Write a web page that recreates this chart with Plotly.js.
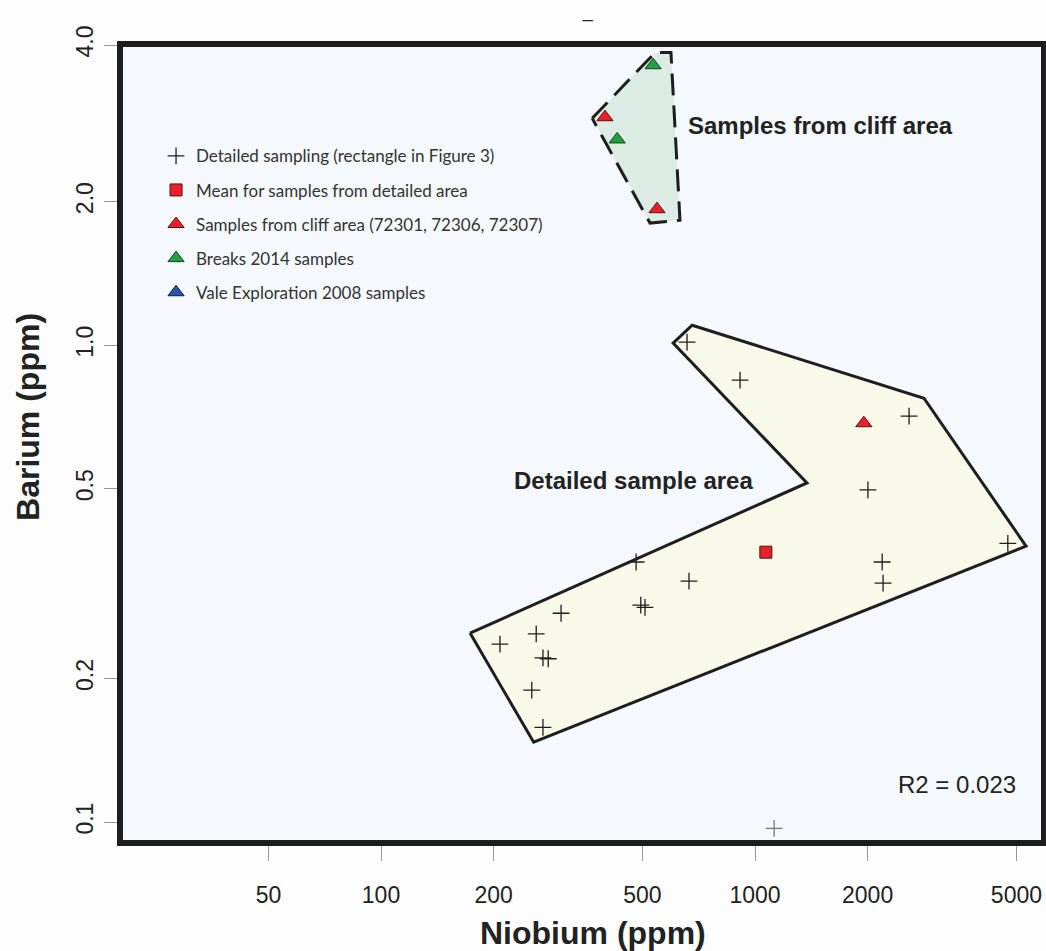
<!DOCTYPE html>
<html>
<head>
<meta charset="utf-8">
<script src="https://cdn.plot.ly/plotly-3.0.1.min.js"></script>
<style>html,body{margin:0;padding:0;background:#fdfdfd;}</style>
</head>
<body>
<div id="chart" style="width:1046px;height:951px;"></div>
<script>
// Detailed sampling (crosses)
const crossNb = [658, 912, 2582, 2004, 4742, 2188, 2200, 481, 666, 495, 508, 303, 260, 208, 271, 280, 253, 271, 1125];
const crossBa = [1.015, 0.845, 0.710, 0.497, 0.384, 0.351, 0.317, 0.351, 0.320, 0.285, 0.282, 0.274, 0.248, 0.236, 0.221, 0.220, 0.189, 0.158, 0.097];
// Mean for detailed area
const meanNb = [1069];
const meanBa = [0.368];
// Cliff area samples
const cliffNb = [397, 547, 1954];
const cliffBa = [3.006, 1.928, 0.686];
// Breaks 2014 samples
const breaksNb = [534, 428];
const breaksBa = [3.864, 2.70];
// Vale Exploration 2008 samples (none within plotted range)
const valeNb = [null];
const valeBa = [null];
// Outline of detailed sample area
const detAreaNb = [173, 1377, 604, 679, 2830, 5304, 256];
const detAreaBa = [0.249, 0.514, 1.0097, 1.101, 0.774, 0.379, 0.147];
// Outline of cliff area
const cliffAreaNb = [367, 541, 596, 630, 524];
const cliffAreaBa = [2.99, 4.11, 4.11, 1.828, 1.803];

const xTickVals = [50, 100, 200, 500, 1000, 2000, 5000];
const xTickText = ['50', '100', '200', '500', '1000', '2000', '5000'];
const yTickVals = [0.1, 0.2, 0.5, 1, 2, 4.26];
const yTickText = ['0.1', '0.2', '0.5', '1.0', '2.0', '4.0'];

const close = a => a.concat([a[0]]);
const crossColors = crossNb.map((v, i) => i === crossNb.length - 1 ? '#777777' : '#1e1e1e');

const data = [
  {x: close(detAreaNb), y: close(detAreaBa), type: 'scatter', mode: 'lines', fill: 'toself',
   fillcolor: '#f8f9e9', line: {color: '#1e1e1e', width: 3}, showlegend: false, hoverinfo: 'skip'},
  {x: close(cliffAreaNb), y: close(cliffAreaBa), type: 'scatter', mode: 'lines', fill: 'toself',
   fillcolor: '#dcebe3', line: {color: '#1e1e1e', width: 3, dash: '22px,10px'}, showlegend: false, hoverinfo: 'skip'},
  {x: crossNb, y: crossBa, type: 'scatter', mode: 'markers', name: 'Detailed sampling (rectangle in Figure 3)',
   legendgroup: 'a', marker: {symbol: 'cross-thin-open', size: 12, color: crossColors, line: {width: 1.3, color: crossColors}}},
  {x: meanNb, y: meanBa, type: 'scatter', mode: 'markers', name: 'Mean for samples from detailed area',
   legendgroup: 'b', marker: {symbol: 'square', size: 12, color: '#e8202a', line: {width: 1, color: '#5a1010'}}},
  {x: cliffNb, y: cliffBa, type: 'scatter', mode: 'markers', name: 'Samples from cliff area (72301, 72306, 72307)',
   legendgroup: 'c', marker: {symbol: 'triangle-up', size: 14, color: '#e8202a', line: {width: 1, color: '#5a1010'}}},
  {x: breaksNb, y: breaksBa, type: 'scatter', mode: 'markers', name: 'Breaks 2014 samples',
   legendgroup: 'd', marker: {symbol: 'triangle-up', size: 14, color: '#24a044', line: {width: 1, color: '#10401a'}}},
  {x: valeNb, y: valeBa, type: 'scatter', mode: 'markers', name: 'Vale Exploration 2008 samples',
   legendgroup: 'e', marker: {symbol: 'triangle-up', size: 14, color: '#2a55a8', line: {width: 1, color: '#101a40'}}}
];

const axisFont = {family: 'Liberation Sans, Arial, sans-serif', size: 23, color: '#222'};

const layout = {
  width: 1046, height: 951,
  margin: {l: 120, r: 2, t: 44, b: 108},
  paper_bgcolor: '#fdfdfd',
  plot_bgcolor: '#f5f9fd',
  title: {text: '_', x: 0.562, xanchor: 'center', y: 0.995, yanchor: 'top',
          font: {family: 'Liberation Sans, Arial, sans-serif', size: 18, color: '#222'}},
  showlegend: true,
  legend: {x: 0.039, y: 0.882, xanchor: 'left', yanchor: 'top', bgcolor: 'rgba(0,0,0,0)',
           font: {family: 'Lato, sans-serif', size: 17, color: '#333'},
           tracegroupgap: 9, traceorder: 'grouped', itemsizing: 'trace'},
  xaxis: {type: 'log', range: [1.3021, 3.7727], tickvals: xTickVals, ticktext: xTickText,
          ticks: 'outside', ticklen: 17, tickwidth: 1, tickcolor: '#999', tickfont: axisFont,
          ticklabelstandoff: 14, showgrid: false, zeroline: false, showline: false},
  yaxis: {type: 'log', range: [-1.044, 0.6315], tickvals: yTickVals, ticktext: yTickText,
          tickangle: -90, ticks: 'outside', ticklen: 15, tickwidth: 1, tickcolor: '#999', tickfont: axisFont,
          ticklabelstandoff: 2, showgrid: false, zeroline: false, showline: false},
  shapes: [
    {type: 'rect', xref: 'paper', yref: 'paper', x0: 0, x1: 1, y0: 0, y1: 1,
     line: {color: '#1e1e1e', width: 6}, layer: 'above'}
  ],
  annotations: [
    {text: '<b>Samples from cliff area</b>', xref: 'paper', yref: 'paper', x: 0.7576, y: 0.8974,
     xanchor: 'center', yanchor: 'middle', showarrow: false,
     font: {family: 'Liberation Sans, Arial, sans-serif', size: 24, color: '#222'}},
    {text: '<b>Detailed sample area</b>', xref: 'paper', yref: 'paper', x: 0.5552, y: 0.4531,
     xanchor: 'center', yanchor: 'middle', showarrow: false,
     font: {family: 'Liberation Sans, Arial, sans-serif', size: 24, color: '#222'}},
    {text: 'R2 = 0.023', xref: 'paper', yref: 'paper', x: 0.9058, y: 0.0726,
     xanchor: 'center', yanchor: 'middle', showarrow: false,
     font: {family: 'Liberation Sans, Arial, sans-serif', size: 24, color: '#222'}},
    {text: '<b>Niobium (ppm)</b>', xref: 'paper', yref: 'paper', x: 0.5119, y: -0.1126,
     xanchor: 'center', yanchor: 'middle', showarrow: false,
     font: {family: 'Liberation Sans, Arial, sans-serif', size: 32, color: '#222'}},
    {text: '<b>Barium (ppm)</b>', xref: 'paper', yref: 'paper', x: -0.0996, y: 0.5332,
     xanchor: 'center', yanchor: 'middle', showarrow: false, textangle: -90,
     font: {family: 'Liberation Sans, Arial, sans-serif', size: 32, color: '#222'}}
  ]
};

Plotly.newPlot('chart', data, layout, {displayModeBar: false, staticPlot: true});
</script>
</body>
</html>
